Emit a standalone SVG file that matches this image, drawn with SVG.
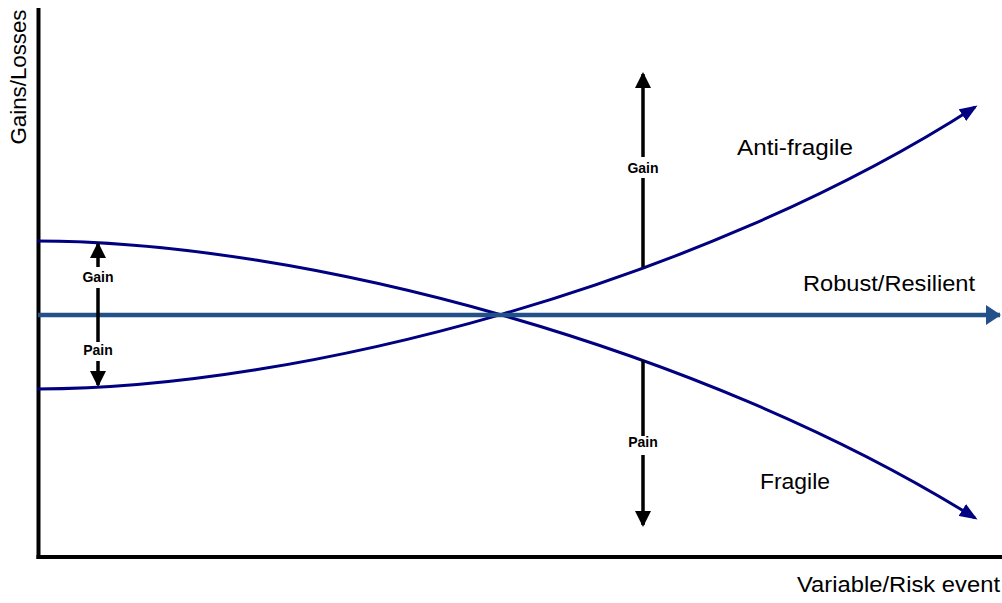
<svg xmlns="http://www.w3.org/2000/svg" width="1002" height="603" viewBox="0 0 1002 603">
<style>
.axis{stroke:#000;stroke-width:4;fill:none}
.curve{stroke:#000080;stroke-width:3;fill:none}
.robust{stroke:#24508A;stroke-width:4.5;fill:none}
.blk{stroke:#000;stroke-width:3.5;fill:none}
.lbl{font-family:"Liberation Sans",Arial,sans-serif;font-size:22px;fill:#000}
.sm{font-family:"Liberation Sans",Arial,sans-serif;font-size:14px;font-weight:bold;fill:#000;text-anchor:middle}
</style>
<defs>
<marker id="navyArrow" viewBox="0 0 18 14" refX="15" refY="7" markerWidth="18" markerHeight="14" markerUnits="userSpaceOnUse" orient="auto">
<path d="M0,0 L18,7 L0,14 z" fill="#000080"/>
</marker>
<marker id="blueArrow" viewBox="0 0 15 20" refX="14" refY="10" markerWidth="15" markerHeight="20" markerUnits="userSpaceOnUse" orient="auto">
<path d="M0,0 L15,10 L0,20 z" fill="#24508A"/>
</marker>
<marker id="blkArrow" viewBox="0 0 16 16" refX="14" refY="8" markerWidth="16" markerHeight="16" markerUnits="userSpaceOnUse" orient="auto">
<path d="M0,0 L16,8 L0,16 z" fill="#000"/>
</marker>
</defs>
<g id="axes">
<line class="axis" x1="38.5" y1="8" x2="38.5" y2="559"/>
<line class="axis" x1="36.5" y1="557" x2="1002" y2="557"/>
</g>
<g id="connectors">
<path id="fragile-curve" class="curve" d="M37,241 C300,241 700,346 975,518" marker-end="url(#navyArrow)"/>
<path id="antifragile-curve" class="curve" d="M37,389 C300,389 700,284 975,107" marker-end="url(#navyArrow)"/>
<line id="robust-line" class="robust" x1="38" y1="315" x2="1000" y2="315" marker-end="url(#blueArrow)"/>
<g id="small-arrows">
<line class="blk" x1="98" y1="267" x2="98" y2="244" marker-end="url(#blkArrow)"/>
<line class="blk" x1="98" y1="288" x2="98" y2="342"/>
<line class="blk" x1="98" y1="361" x2="98" y2="385" marker-end="url(#blkArrow)"/>
</g>
<g id="big-arrows">
<line class="blk" x1="643" y1="157" x2="643" y2="74" marker-end="url(#blkArrow)"/>
<line class="blk" x1="643" y1="178" x2="643" y2="267"/>
<line class="blk" x1="643" y1="360" x2="643" y2="436"/>
<line class="blk" x1="643" y1="455" x2="643" y2="525" marker-end="url(#blkArrow)"/>
</g>
</g>
<g id="labels">
<text class="lbl" transform="translate(26,77) rotate(-90)" text-anchor="middle" textLength="135" lengthAdjust="spacingAndGlyphs">Gains/Losses</text>
<text class="lbl" x="737" y="155" textLength="116" lengthAdjust="spacingAndGlyphs">Anti-fragile</text>
<text class="lbl" x="803" y="291" textLength="172" lengthAdjust="spacingAndGlyphs">Robust/Resilient</text>
<text class="lbl" x="760" y="489" textLength="70" lengthAdjust="spacingAndGlyphs">Fragile</text>
<text class="lbl" x="797" y="592" textLength="203" lengthAdjust="spacingAndGlyphs">Variable/Risk event</text>
<text class="sm" x="98" y="282">Gain</text>
<text class="sm" x="98" y="355">Pain</text>
<text class="sm" x="643" y="173">Gain</text>
<text class="sm" x="643" y="447">Pain</text>
</g>
</svg>
